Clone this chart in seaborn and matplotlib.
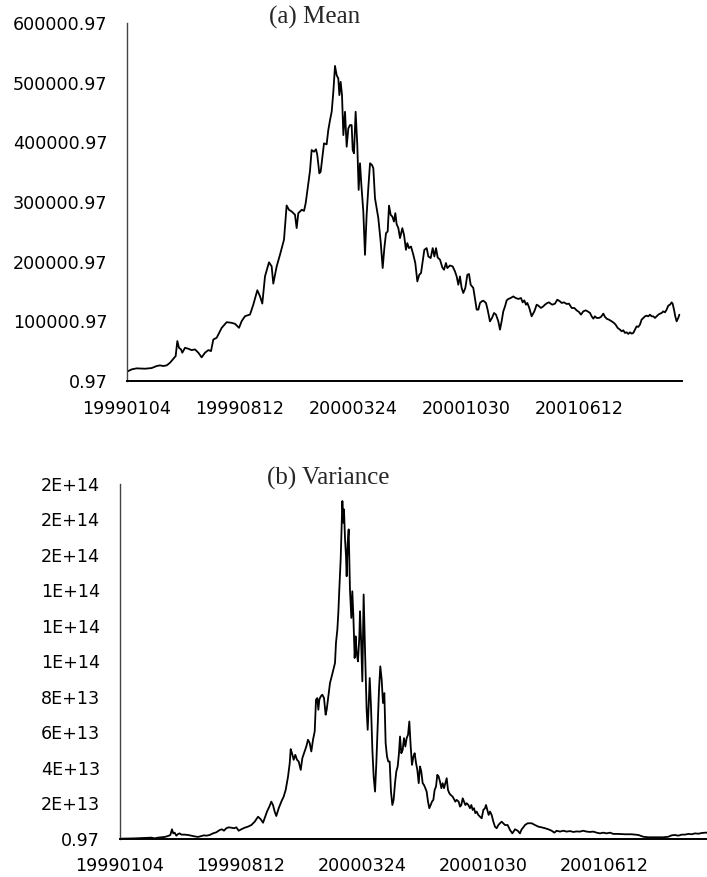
import numpy as np
import pandas as pd
import seaborn as sns
import matplotlib
matplotlib.use("Agg")
import matplotlib.pyplot as plt

# ---------------- data ----------------
# trading-day index from 19990104
mean_day = [0, 6.2, 12.8, 23.9, 32.7, 39.4, 43.8, 48.2, 52.7, 57.1, 61.5, 64.6, 66.8, 69.0, 71.7, 73.4,
            77.0, 81.4, 85.8, 90.3, 94.7, 99.1, 103.5, 108.0, 111.5, 114.6, 119.0, 125.7, 132.3, 138.9,
            143.4, 148.7, 152.2, 156.6, 163.3, 167.7, 173.0, 176.5, 179.6, 183.2, 188.5, 192.0, 194.2,
            198.7, 203.1, 208.4, 211.9, 215.0, 218.6, 223.0, 225.2, 227.4, 231.9, 235.0, 237.2, 240.7,
            242.9, 245.1, 248.2, 250.9, 252.6, 255.3, 257.1, 259.7, 261.5, 265.0, 267.2, 269.5, 271.7,
            273.9, 276.1, 278.3, 280.5, 281.9, 283.6, 285.4, 287.2, 289.4, 291.6, 293.8, 296.0, 298.2,
            299.6, 301.3, 303.5, 305.7, 307.5, 309.3, 311.1, 313.7, 315.9, 318.1, 320.3, 322.6, 325.2,
            327.0, 329.2, 331.4, 333.6, 336.7, 339.4, 341.6, 343.8, 346.0, 347.8, 350.0, 352.2, 354.4,
            356.2, 357.9, 360.2, 362.4, 365.5, 367.7, 370.3, 372.1, 374.3, 377.0, 380.1, 382.7, 385.4,
            388.0, 390.3, 392.5, 394.7, 397.8, 400.0, 403.1, 405.8, 408.0, 410.2, 412.4, 415.5, 418.6,
            420.8, 423.4, 425.2, 428.7, 432.3, 435.4, 437.6, 439.8, 442.0, 444.2, 446.4, 449.1, 451.8,
            454.0, 456.2, 459.7, 462.4, 464.2, 466.4, 468.6, 470.8, 473.0, 476.5, 478.7, 481.8, 484.5,
            487.2, 489.8, 492.9, 495.1, 497.3, 499.5, 501.8, 504.0, 506.2, 509.3, 512.8, 515.9, 519.5,
            523.0, 525.2, 527.4, 529.6, 531.4, 534.0, 537.1, 540.7, 543.8, 546.0, 549.5, 552.6, 554.8,
            557.9, 560.2, 562.4, 564.6, 568.1, 571.2, 574.8, 577.0, 580.1, 583.6, 586.7, 590.3, 593.8,
            596.9, 600.0, 602.6, 605.7, 608.8, 611.5, 614.6, 616.8, 619.0, 621.2, 623.4, 626.5, 629.2,
            632.3, 634.5, 637.2, 639.8, 643.4, 646.4, 648.6, 651.3, 654.4, 656.6, 658.8, 661.0, 663.2,
            665.5, 667.7, 669.9, 672.1, 674.3, 676.5, 678.7, 680.9, 683.1, 685.4, 687.6, 689.8, 692.0,
            694.2, 696.4, 698.6, 700.9, 703.1, 705.3, 707.5, 709.7, 711.9, 714.1, 716.3, 718.5, 720.8,
            723.0, 724.3, 726.1, 727.8, 729.6, 731.8, 733.2]
# mean, in thousands
mean_k = [15.6, 19.5, 21.2, 20.6, 21.7, 25.1, 26.2, 25.1, 26.2, 30.6, 37.3, 41.8, 66.9, 55.7, 52.9, 47.4,
          55.7, 54.0, 51.8, 52.9, 47.4, 39.6, 47.4, 51.8, 50.1, 69.6, 72.4, 89.1, 98.6, 97.5,
          95.8, 89.1, 100.3, 108.6, 111.4, 128.1, 152.1, 142.1, 129.8, 175.5, 198.9, 192.2, 163.2,
          192.2, 211.7, 236.8, 294.2, 286.9, 284.1, 278.6, 256.3, 281.3, 286.9, 285.2, 298.1, 331.5,
          352.0, 387.1, 384.3, 388.3, 378.8, 348.1, 350.9, 378.8, 398.3, 396.6, 420.6, 437.3, 451.2,
          484.6, 528.1, 512.5, 507.0, 479.1, 501.4, 479.1, 412.2, 451.2, 392.7, 423.4, 428.9, 428.9,
          387.1, 381.6, 451.2, 395.5, 320.2, 364.9, 328.6, 284.0, 211.5, 278.4, 323.0, 364.9, 362.0,
          356.5, 306.3, 289.6, 272.9, 233.8, 189.3, 222.7, 247.8, 250.5, 294.0, 278.4, 275.6, 267.2,
          281.3, 262.9, 256.2, 239.5, 256.2, 245.0, 219.9, 231.1, 222.7, 225.4, 211.5, 197.7, 166.9,
          178.1, 180.9, 200.3, 219.9, 222.7, 208.7, 206.0, 222.7, 208.7, 222.7, 207.0, 203.2, 190.3,
          186.5, 197.7, 189.3, 193.6, 192.0, 183.6, 175.3, 161.4, 175.3, 155.9, 147.5, 155.9, 178.1,
          179.3, 161.4, 155.9, 133.4, 119.6, 119.6, 130.8, 133.4, 134.6, 130.8, 119.6, 100.0, 105.7,
          114.0, 111.2, 100.0, 86.1, 100.0, 116.7, 125.1, 135.1, 137.5, 139.1, 141.8, 139.1, 137.5,
          139.1, 131.8, 135.1, 127.9, 130.8, 122.4, 108.4, 116.7, 127.9, 126.3, 122.4, 125.1, 127.9,
          130.8, 131.8, 129.6, 127.9, 129.6, 136.3, 133.4, 130.8, 131.8, 129.1, 129.6, 122.4, 122.4,
          118.4, 115.7, 111.2, 116.7, 118.4, 116.7, 114.0, 108.4, 104.5, 108.4, 105.7, 105.7, 107.4,
          112.9, 107.4, 104.0, 102.8, 100.0, 97.3, 94.5, 89.0, 86.1, 83.3, 85.0, 80.6, 81.6,
          78.9, 81.6, 79.4, 80.6, 86.1, 91.6, 90.6, 94.5, 102.8, 105.7, 108.4, 109.5, 108.4,
          111.2, 108.4, 108.4, 105.7, 108.4, 111.2, 112.9, 114.0, 116.7, 115.1, 119.6, 126.3, 127.9,
          131.8, 129.6, 119.6, 108.4, 100.0, 105.7, 111.2]

var_day = [0, 20, 39.4, 43.5, 47.6, 51.7, 55.9, 60.0, 62.9, 64.9, 66.5, 68.2, 70.3, 72.3, 74.4, 76.5,
           80.6, 84.7, 88.8, 93.0, 97.1, 101.2, 104.5, 107.4, 111.5, 115.6, 119.7, 123.9, 126.8, 129.2,
           132.1, 135.0, 138.3, 141.6, 144.5, 147.4, 150.6, 154.8, 158.9, 163.0, 167.2, 171.3, 174.6,
           177.5, 179.5, 182.4, 185.7, 187.7, 189.8, 191.9, 193.9, 196.9, 200.1, 203.0, 205.5, 208.4,
           210.5, 211.7, 213.3, 215.4, 217.4, 219.5, 221.6, 224.1, 226.1, 229.0, 231.0, 233.1, 235.2,
           237.2, 239.3, 241.4, 243.0, 244.6, 245.9, 247.1, 248.8, 250.8, 252.9, 254.9, 256.2, 258.2,
           260.3, 262.4, 264.4, 266.5, 267.7, 269.4, 270.6, 271.8, 273.5, 274.7, 275.6, 276.8, 277.6,
           278.9, 280.1, 280.9, 282.2, 283.4, 285.0, 286.7, 287.9, 289.2, 290.8, 292.0, 293.3, 294.9,
           296.6, 297.4, 298.6, 300.3, 301.9, 303.6, 305.6, 306.9, 308.1, 309.4, 311.0, 312.7, 314.3,
           316.0, 317.6, 319.2, 320.9, 322.5, 324.2, 325.8, 327.5, 329.1, 330.8, 332.4, 334.1, 335.7,
           337.4, 339.0, 340.7, 342.3, 344.0, 345.6, 346.9, 348.5, 350.2, 351.8, 353.5, 355.1, 356.8,
           358.4, 360.1, 361.7, 363.4, 365.0, 366.7, 368.3, 370.0, 371.6, 373.2, 374.9, 376.5, 378.2,
           379.8, 381.5, 383.1, 384.8, 386.4, 388.1, 389.7, 391.4, 393.0, 394.7, 396.3, 398.0, 399.6,
           401.3, 402.9, 404.6, 406.2, 407.9, 409.5, 412.0, 413.6, 415.3, 416.9, 419.4, 421.1, 422.7,
           424.4, 426.0, 427.7, 429.3, 431.4, 433.4, 435.1, 436.7, 438.4, 440.0, 441.7, 443.7, 445.8,
           447.9, 449.9, 452.0, 453.2, 454.9, 456.5, 458.2, 460.2, 462.3, 464.3, 466.4, 468.5, 470.5,
           472.6, 474.6, 476.7, 480.0, 482.9, 485.8, 489.1, 492.4, 495.2, 497.3, 499.4, 501.4, 504.7,
           509.7, 513.8, 517.9, 522.0, 526.2, 530.3, 534.4, 537.7, 540.6, 544.7, 548.8, 552.9, 557.1,
           561.2, 565.3, 569.4, 573.6, 577.7, 581.8, 585.9, 590.1, 594.2, 598.3, 602.4, 606.5, 610.7,
           616.8, 625.1, 633.3, 641.6, 647.8, 653.9, 660.1, 666.3, 672.5, 678.7, 682.8, 686.9, 691.0,
           695.2, 699.3, 703.4, 707.5, 711.7, 715.8, 719.9, 724.0, 726.5, 733.2]
# variance, in units of 1E+13
var_e13 = [0.0, 0.02, 0.06, 0.02, 0.06, 0.08, 0.10, 0.15, 0.21, 0.53, 0.30, 0.34, 0.17, 0.26, 0.30, 0.23,
           0.23, 0.21, 0.17, 0.13, 0.10, 0.15, 0.19, 0.17, 0.21, 0.30, 0.36, 0.49, 0.53, 0.45,
           0.59, 0.64, 0.62, 0.59, 0.64, 0.45, 0.53, 0.62, 0.68, 0.77, 0.96, 1.24, 1.10,
           0.90, 1.15, 1.53, 1.85, 2.09, 1.90, 1.53, 1.28, 1.72, 2.09, 2.37, 2.75, 3.50,
           4.26, 5.05, 4.82, 4.45, 4.73, 4.45, 4.35, 3.88, 4.54, 4.92, 5.20, 5.58, 5.39,
           4.92, 5.58, 6.05, 7.84, 7.93, 7.27, 7.84, 8.02, 8.12, 7.93, 6.99, 7.27, 8.02,
           8.78, 9.15, 9.53, 9.91, 11.04, 11.79, 12.73, 14.05, 15.75, 17.63, 19.04, 17.82, 18.57,
           16.88, 15.93, 14.80, 16.69, 17.44, 14.05, 12.45, 13.95, 12.54, 10.19, 11.41, 10.47, 10.00,
           11.41, 12.82, 11.41, 8.87, 13.77, 10.66, 7.27, 6.14, 7.46, 9.06, 7.46, 5.01, 3.50,
           2.66, 4.26, 6.33, 8.40, 9.72, 8.97, 7.65, 8.21, 5.39, 4.63, 4.35, 4.35, 2.66,
           1.90, 2.19, 3.13, 3.79, 4.07, 4.82, 5.76, 4.82, 5.01, 5.67, 5.20, 5.67, 5.86,
           6.61, 5.20, 4.16, 4.63, 4.82, 4.26, 3.88, 3.13, 4.07, 3.79, 3.13, 3.03, 2.85,
           2.66, 2.09, 1.72, 1.90, 2.09, 2.19, 2.75, 2.94, 3.60, 3.50, 3.22, 2.85, 3.13,
           2.85, 3.13, 3.41, 2.75, 2.56, 2.47, 2.37, 2.23, 2.09, 2.19, 2.09, 1.81, 1.90,
           2.28, 2.09, 1.90, 2.00, 1.90, 1.72, 1.90, 1.62, 1.72, 1.44, 1.53, 1.34, 1.24,
           1.15, 1.62, 1.72, 1.90, 1.62, 1.34, 1.53, 1.34, 0.96, 0.68, 0.59, 0.77, 0.87,
           0.96, 0.87, 0.77, 0.77, 0.49, 0.30, 0.53, 0.45, 0.30, 0.53, 0.64, 0.77, 0.87,
           0.87, 0.77, 0.68, 0.64, 0.59, 0.53, 0.45, 0.34, 0.45, 0.40, 0.45, 0.40, 0.43,
           0.38, 0.41, 0.40, 0.45, 0.40, 0.38, 0.40, 0.34, 0.30, 0.34, 0.30, 0.34, 0.27,
           0.27, 0.25, 0.25, 0.21, 0.11, 0.08, 0.08, 0.08, 0.08, 0.11, 0.19, 0.21, 0.17,
           0.23, 0.23, 0.27, 0.25, 0.30, 0.28, 0.32, 0.34, 0.34, 0.35]

tick_days = [0, 150, 300, 450, 600]
tick_labels = ["19990104", "19990812", "20000324", "20001030", "20010612"]

mean_yticks = [0.97 + k * 100000 for k in range(7)]
mean_ylabels = ["0.97", "100000.97", "200000.97", "300000.97", "400000.97", "500000.97", "600000.97"]
var_yticks = [0.97 + k * 2e13 for k in range(11)]
var_ylabels = ["0.97", "2E+13", "4E+13", "6E+13", "8E+13", "1E+14", "1E+14", "1E+14", "2E+14", "2E+14", "2E+14"]

titles = ["(a) Mean", "(b) Variance"]

# ---------------- plotting ----------------
sns.set_theme(style="white")
plt.rcParams["font.family"] = ["DejaVu Sans"]

df_mean = pd.DataFrame({"day": mean_day, "value": np.array(mean_k) * 1000.0})
df_var = pd.DataFrame({"day": var_day, "value": np.array(var_e13) * 1e13})

W, H = 707, 877
fig = plt.figure(figsize=(W / 100, H / 100), dpi=100)
fig.patch.set_facecolor("white")

N = 737
# top axes: x 127..682, y 23..381
ax1 = fig.add_axes([127 / W, (H - 381) / H, (N * 113 / 150) / W, (381 - 23) / H])
# bottom axes: x 119.5.., y 484..838.7
ax2 = fig.add_axes([119.5 / W, (H - 838.7) / H, (N * 121.3 / 150) / W, (838.7 - 484) / H])

for ax, df, yt, yl, ylim, pady, padx in [
    (ax1, df_mean, mean_yticks, mean_ylabels, (0.97, 600000.97), 14, 14),
    (ax2, df_var, var_yticks, var_ylabels, (0.97, 2e14 + 0.97), 13, 14),
]:
    sns.lineplot(data=df, x="day", y="value", ax=ax, color="black", linewidth=1.3,
                 sort=True, estimator=None)
    ax.set_xlim(0, N)
    ax.set_ylim(*ylim)
    ax.set_xticks(tick_days)
    ax.set_xticklabels(tick_labels)
    ax.set_yticks(yt)
    ax.set_yticklabels(yl)
    ax.set_xlabel("")
    ax.set_ylabel("")
    for s in ["top", "right"]:
        ax.spines[s].set_visible(False)
    ax.spines["left"].set_color("#444444")
    ax.spines["left"].set_linewidth(1.0)
    ax.spines["bottom"].set_color("black")
    ax.spines["bottom"].set_linewidth(1.4)
    ax.tick_params(axis="both", direction="in", length=5, width=1.0, color="#444444",
                   labelsize=12.6, labelcolor="black")
    ax.tick_params(axis="x", pad=pady)
    ax.tick_params(axis="y", pad=padx)
    ax.set_facecolor("white")
    ax.patch.set_alpha(0)

fig.text(315 / W, 1 - 17 / H, titles[0], ha="center", va="center",
         fontsize=18, family=["Liberation Serif", "DejaVu Serif"])
fig.text(328 / W, 1 - 478 / H, titles[1], ha="center", va="center",
         fontsize=18, family=["Liberation Serif", "DejaVu Serif"])

fig.savefig("out.png", dpi=100, facecolor="white")
